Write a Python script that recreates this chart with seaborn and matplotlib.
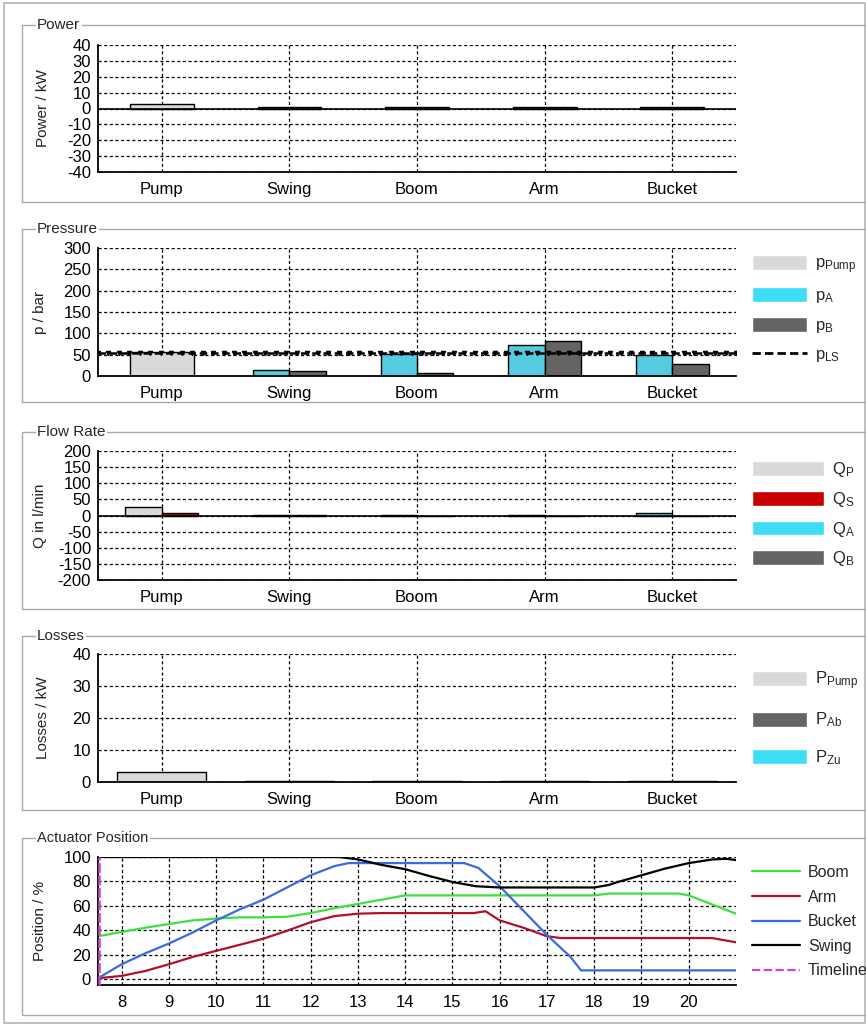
import numpy as np
import pandas as pd
import matplotlib
matplotlib.use("Agg")
import matplotlib.pyplot as plt
import seaborn as sns
from matplotlib.patches import Rectangle, Patch
from matplotlib.lines import Line2D

# ---------------- data ----------------
categories = ["Pump", "Swing", "Boom", "Arm", "Bucket"]

power_values = [3.0, 0.8, 0.8, 0.8, 0.8]

p_pump = 56.0
pA_values = [15, 52, 72, 49]        # Swing, Boom, Arm, Bucket
pB_values = [12, 8, 82, 28]
p_LS = 55.0

Q_P = 27.0
Q_S = 8.0
QA_values = [3, 3, 3, 8]
QB_values = [3, 0, 0, 0]

loss_pump = 3.0
loss_Ab = [0.35, 0.35, 0.35, 0.35]

boom_t = [7.5, 8, 8.5, 9, 9.5, 10, 10.5, 11, 11.5, 12, 12.5, 13, 13.5, 14, 18, 18.3, 19.8, 20, 20.5, 21]
boom_v = [35, 38.5, 42, 45, 48, 49.5, 50.5, 50.5, 51, 54, 58, 61.5, 65, 68.5, 68.5, 70, 70, 68.5, 61, 53.5]
arm_t = [7.5, 8, 8.5, 9, 9.5, 10, 10.5, 11, 11.5, 12, 12.5, 13, 13.5, 15.45, 15.7, 16, 16.5, 17, 17.3, 20.5, 21]
arm_v = [0.5, 2.5, 6.5, 12, 18, 23, 28, 33, 39.5, 46.5, 51.5, 53.5, 54, 54, 55.5, 48, 42, 35, 33.5, 33.5, 30]
bucket_t = [7.5, 8, 8.5, 9, 9.5, 10, 10.5, 11, 11.5, 12, 12.5, 12.8, 13, 15.25, 15.55, 16, 16.5, 17, 17.5, 17.72, 21]
bucket_v = [0.5, 12, 21, 29, 38, 48, 57, 65, 75, 85, 92.5, 95, 95, 95, 91, 76, 56, 36, 18, 7, 7]
swing_t = [7.5, 12.6, 13, 13.5, 14, 14.5, 15, 15.5, 16, 18, 18.3, 18.5, 19, 19.5, 20, 20.5, 20.8, 21]
swing_v = [100, 100, 98, 93.5, 90, 84.5, 79.5, 76, 75, 75, 77, 79.5, 85, 90.5, 95, 98, 98.5, 97.5]
timeline_t = [7.52, 7.52]
timeline_v = [-5, 100]

# ---------------- style ----------------
sns.set_theme(style="white")
NARROW = ["Liberation Sans Narrow", "Liberation Sans", "DejaVu Sans"]
REG = ["Liberation Sans", "DejaVu Sans"]
plt.rcParams["font.family"] = NARROW
plt.rcParams["axes.unicode_minus"] = False
plt.rcParams["mathtext.fontset"] = "custom"
plt.rcParams["mathtext.rm"] = "Liberation Sans"
plt.rcParams["mathtext.it"] = "Liberation Sans"

C_LGRAY = "#D9D9D9"
C_CYAN = "#3DDDF6"
C_DGRAY = "#646464"
C_RED = "#C80000"

W, H = 866, 1026
fig = plt.figure(figsize=(W / 100, H / 100), dpi=100)


def fx(px):
    return px / W


def fy(py):
    return 1 - py / H


def make_ax(top, bottom, left=98, right=736):
    return fig.add_axes([fx(left), fy(bottom), fx(right - left), (bottom - top) / H])


# outer frame and group boxes
fig.add_artist(Rectangle((fx(4), fy(1023)), fx(861), (1020) / H, transform=fig.transFigure,
                         fill=False, edgecolor="#B4B4B4", lw=1.2, zorder=-5))
boxes = [("Power", 25, 202, NARROW), ("Pressure", 229, 402, NARROW),
         ("Flow Rate", 432, 609, NARROW), ("Losses", 636, 810, NARROW),
         ("Actuator Position", 838, 1015, REG)]
for title, top, bot, fam in boxes:
    fig.add_artist(Rectangle((fx(22), fy(bot)), fx(866 - 22 + 5), (bot - top) / H,
                             transform=fig.transFigure, fill=False,
                             edgecolor="#A8A8A8", lw=1.0, zorder=-4))
    fig.text(fx(37), fy(top), title, family=fam, fontsize=11 if fam is NARROW else 10.5,
             va="center", ha="left",
             bbox=dict(facecolor="white", edgecolor="none", pad=1.0), zorder=5)


def style_bar_ax(ax, ylim, yticks, ylabel, label_x):
    ax.set_xlim(-0.5, 4.5)
    ax.set_ylim(*ylim)
    ax.set_yticks(yticks)
    ax.set_xticks(range(len(categories)))
    ax.set_xticklabels(categories)
    ax.grid(True, color="black", linestyle=(0, (2.5, 2.0)), linewidth=0.9)
    ax.set_axisbelow(True)
    for s in ["top", "right"]:
        ax.spines[s].set_visible(False)
    for s in ["left", "bottom"]:
        ax.spines[s].set_color("black")
        ax.spines[s].set_linewidth(1.3)
    ax.tick_params(axis="both", labelsize=12, length=0, pad=5, colors="black")
    ax.tick_params(axis="x", pad=7)
    ax.set_xlabel("")
    ax.set_ylabel(ylabel, family=REG, fontsize=11, color="#222222")
    ax.yaxis.set_label_coords(label_x, 0.5)
    if ax.get_legend() is not None:
        ax.get_legend().remove()


def legend(ax, handles, labels, top_px, handlelength, spacing):
    ax.legend(handles, labels, loc="upper left",
              bbox_to_anchor=(fx(752), fy(top_px)), bbox_transform=fig.transFigure,
              frameon=False, fontsize=12, handlelength=handlelength, handleheight=1.0,
              labelspacing=spacing, handletextpad=0.5, borderaxespad=0, borderpad=0)


# ---------------- Power ----------------
ax1 = make_ax(45, 172)
df_pow = pd.DataFrame({"cat": categories, "val": power_values,
                       "kind": ["pump"] + ["act"] * 4})
sns.barplot(data=df_pow, x="cat", y="val", hue="kind", order=categories,
            palette={"pump": C_LGRAY, "act": C_DGRAY}, dodge=False, width=0.5,
            edgecolor="black", linewidth=1.0, ax=ax1, legend=False)
ax1.axhline(0, color="black", lw=1.2, zorder=3)
style_bar_ax(ax1, (-40, 40), range(-40, 41, 10), "Power / kW", -0.075)

# ---------------- Pressure ----------------
ax2 = make_ax(248, 376)
sns.barplot(x=["Pump"], y=[p_pump], order=categories, color=C_LGRAY, width=0.5,
            edgecolor="black", linewidth=1.0, ax=ax2)
df_p = pd.DataFrame({"cat": categories[1:] * 2, "val": pA_values + pB_values,
                     "series": ["pA"] * 4 + ["pB"] * 4})
sns.barplot(data=df_p, x="cat", y="val", hue="series", order=categories,
            hue_order=["pA", "pB"], palette={"pA": C_CYAN, "pB": C_DGRAY},
            width=0.57, dodge=True, edgecolor="black", linewidth=1.0, ax=ax2, legend=False)
xs = np.linspace(-0.5, 4.5, 62)
ax2.plot(xs, np.full_like(xs, p_LS), color="black", ls=(0, (3, 1.5)), lw=1.8, zorder=4)
ax2.plot(xs, np.full_like(xs, p_LS), color="black", ls="none", marker="v", ms=3, zorder=4)
style_bar_ax(ax2, (0, 300), range(0, 301, 50), "p / bar", -0.08)
legend(ax2,
       [Patch(facecolor=C_LGRAY), Patch(facecolor=C_CYAN), Patch(facecolor=C_DGRAY),
        Line2D([], [], color="black", ls=(0, (3, 1.5)), lw=2)],
       [r"p$_{\mathrm{Pump}}$", r"p$_{\mathrm{A}}$", r"p$_{\mathrm{B}}$", r"p$_{\mathrm{LS}}$"],
       255, 3.3, 0.68)

# ---------------- Flow ----------------
ax3 = make_ax(451, 580)
df_qp = pd.DataFrame({"cat": ["Pump", "Pump"], "val": [Q_P, Q_S], "series": ["QP", "QS"]})
sns.barplot(data=df_qp, x="cat", y="val", hue="series", order=categories,
            hue_order=["QP", "QS"], palette={"QP": C_LGRAY, "QS": C_RED},
            width=0.57, dodge=True, edgecolor="black", linewidth=1.0, ax=ax3, legend=False)
df_q = pd.DataFrame({"cat": categories[1:] * 2, "val": QA_values + QB_values,
                     "series": ["QA"] * 4 + ["QB"] * 4})
sns.barplot(data=df_q, x="cat", y="val", hue="series", order=categories,
            hue_order=["QA", "QB"], palette={"QA": C_CYAN, "QB": C_DGRAY},
            width=0.57, dodge=True, edgecolor="black", linewidth=1.0, ax=ax3, legend=False)
ax3.axhline(0, color="black", lw=1.2, zorder=3)
style_bar_ax(ax3, (-200, 200), range(-200, 201, 50), "Q in l/min", -0.08)
legend(ax3,
       [Patch(facecolor=C_LGRAY), Patch(facecolor=C_RED), Patch(facecolor=C_CYAN),
        Patch(facecolor=C_DGRAY)],
       [r"Q$_{\mathrm{P}}$", r"Q$_{\mathrm{S}}$", r"Q$_{\mathrm{A}}$", r"Q$_{\mathrm{B}}$"],
       460, 4.3, 0.65)

# ---------------- Losses ----------------
ax4 = make_ax(654, 782)
sns.barplot(x=["Pump"], y=[loss_pump], order=categories, color=C_LGRAY, width=0.7,
            edgecolor="black", linewidth=1.0, ax=ax4)
sns.barplot(x=categories[1:], y=loss_Ab, order=categories, color=C_DGRAY, width=0.7,
            edgecolor="black", linewidth=1.0, ax=ax4)
style_bar_ax(ax4, (0, 40), range(0, 41, 10), "Losses / kW", -0.075)
legend(ax4,
       [Patch(facecolor=C_LGRAY), Patch(facecolor=C_DGRAY), Patch(facecolor=C_CYAN)],
       [r"P$_{\mathrm{Pump}}$", r"P$_{\mathrm{Ab}}$", r"P$_{\mathrm{Zu}}$"],
       669, 3.3, 1.15)

# ---------------- Actuator position ----------------
ax5 = make_ax(857, 985)
series = [("Boom", boom_t, boom_v, "#3BE03B", "-"),
          ("Arm", arm_t, arm_v, "#B0102A", "-"),
          ("Bucket", bucket_t, bucket_v, "#3A6AE0", "-"),
          ("Swing", swing_t, swing_v, "black", "-")]
handles = []
for name, t, v, c, ls in series:
    sns.lineplot(x=t, y=v, color=c, estimator=None, sort=False, lw=1.6, ax=ax5)
    handles.append(Line2D([], [], color=c, lw=1.6))
sns.lineplot(x=timeline_t, y=timeline_v, color="#CC44CC", estimator=None, sort=False,
             lw=1.8, ls=(0, (4, 1)), ax=ax5)
ax5.lines[-1].set_zorder(6)
ax5.lines[-1].set_clip_on(False)
handles.append(Line2D([], [], color="#CC44CC", lw=1.6, ls="--"))
ax5.set_xlim(7.5, 21)
ax5.set_ylim(-5, 100)
ax5.set_xticks(range(8, 21))
ax5.set_yticks(range(0, 101, 20))
ax5.grid(True, color="black", linestyle=(0, (2.5, 2.0)), linewidth=0.9)
ax5.set_axisbelow(True)
for s in ["top", "right"]:
    ax5.spines[s].set_visible(False)
for s in ["left", "bottom"]:
    ax5.spines[s].set_color("black")
    ax5.spines[s].set_linewidth(1.3)
for lab in ax5.get_xticklabels() + ax5.get_yticklabels():
    lab.set_family(REG)
ax5.tick_params(axis="both", labelsize=12, length=0, pad=5, colors="black")
ax5.tick_params(axis="x", pad=7)
ax5.set_ylabel("Position / %", family=REG, fontsize=11, color="#222222")
ax5.yaxis.set_label_coords(-0.08, 0.5)
leg = ax5.legend(handles, ["Boom", "Arm", "Bucket", "Swing", "Timeline"], loc="upper left",
                 bbox_to_anchor=(fx(752), fy(865)), bbox_transform=fig.transFigure,
                 frameon=False, fontsize=11.5, handlelength=3.0, labelspacing=0.6,
                 handletextpad=0.5, borderaxespad=0, borderpad=0)
for txt in leg.get_texts():
    txt.set_family(REG)

fig.savefig("out.png", dpi=100, facecolor="white")
